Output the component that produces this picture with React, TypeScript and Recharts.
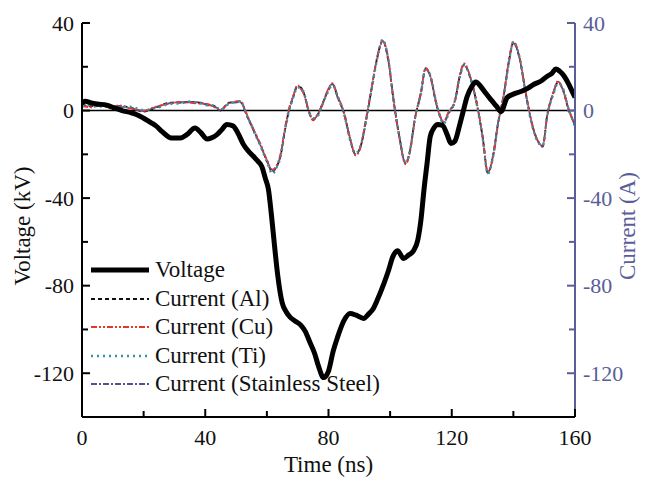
import React from 'react';
import { LineChart, Line, XAxis, YAxis, ReferenceLine, Legend } from 'recharts';

const FONT = '"Liberation Serif", "Times New Roman", Times, serif';
const AXIS_BLUE = '#5a5e98';

// time (ns) / voltage (kV)
const voltageTime = [
  0, 1, 3, 5, 8, 10, 13, 16, 18, 20, 22.6, 24, 26, 29, 32, 34, 36.7, 38.5, 40.6, 42,
  43.8, 45.5, 47, 49, 50.5, 52.4, 54, 55.7, 57, 58.4, 59.5, 60.5, 61.5, 62.5, 63.5, 65, 66.3, 67.6, 69, 71,
  72.5, 74, 75.5, 76.8, 78.4, 80, 81.5, 82.9, 85, 87, 89, 91.4, 93, 94.3, 96, 98, 99.5, 100.8, 102.4, 104.4,
  106, 107.6, 109, 110, 111, 112, 113, 114.2, 115.4, 117, 118.5, 119.7, 121, 122.5, 123.6, 125, 126.5, 127.8, 129.4, 131,
  132.7, 134.5, 136, 138, 140, 142.4, 144.5, 146.7, 149, 151, 152.5, 153.8, 155, 156.5, 158, 159, 160,
];
const voltageKV = [
  3.5, 4.3, 3.5, 3, 2.5, 1.5, 0, -1, -2, -3.5, -5.7, -7, -9.6, -12.5, -12.5, -11, -8, -10, -13, -12.5,
  -11, -8.5, -6.4, -7, -10, -15.5, -18.5, -21, -23, -25.7, -31, -36, -48, -62, -75, -88, -92, -94.5, -96, -98,
  -101, -106, -111, -117, -122, -119, -110, -103.7, -96, -92.7, -93.5, -95, -93, -91, -86, -79, -73, -67, -64, -67.6,
  -66, -64, -59, -50, -36, -24, -12, -8, -6.4, -6.8, -11, -15, -14, -7, -1, 6.4, 11, 13, 11, 8,
  5, 2, -0.5, 6, 7.5, 8.7, 10, 12, 13.5, 15.7, 17, 19, 18, 15.7, 12, 9, 6,
];

// time (ns) / current (A)
const currentTime = [
  0, 3, 6, 9, 12, 15.6, 20, 24, 28.6, 32,
  35, 38, 40.6, 43, 45, 47.6, 51.4, 53.6, 56, 58,
  60, 61.8, 63, 64.4, 66, 67, 68.5, 69.9, 71, 72,
  73.5, 75, 76.5, 78, 79.5, 81.3, 83, 85, 87, 88.8,
  90.5, 92, 94, 95.8, 97.6, 99.5, 101, 103, 105, 106.5,
  108, 110, 111.5, 113, 115, 117.4, 119, 121, 122.5, 124,
  126, 128, 130, 131.7, 133.5, 135, 137, 138.5, 140, 142,
  144, 146, 148, 149.5, 151, 153, 154.5, 156, 158, 159.5,
  160,
];
const currentAl = [
  2.7, 2, 2.5, 1.5, 2, 1.4, -0.5, 1.4, 3.6, 3.6,
  4, 3.6, 2.7, 2, 0, 3.6, 4, -2.7, -10, -16,
  -23, -28, -26, -21, -8, -1, 6, 11, 10.5, 8,
  0, -4, -2, 3, 8, 12, 6, -1, -13, -20,
  -16, -6, 10, 24, 32, 22, 6, -12, -24, -18,
  -4, 8, 19, 16, 3, -5.5, -1, 4, 15, 21,
  15, 4, -12, -28.5, -20, -6, 8, 22, 31, 24,
  8, -6, -14, -16.5, -2, 8, 13, 10, 0, -5,
  -7,
];
const currentCu = [
  2.2, 1.5, 2.8, 1, 2.4, 1, 0, 1.8, 3.2, 4,
  3.6, 3.2, 3, 1.5, 0.5, 3.2, 4.4, -2, -9.5, -15.5,
  -22.5, -27, -25.5, -20, -7, 0, 6.5, 11.5, 10, 7.5,
  0.5, -4.5, -1.5, 2.5, 8.5, 12.5, 6.5, -0.5, -12.5, -20.5,
  -16.5, -5, 10.5, 24.5, 31.5, 23, 5.5, -12.5, -24.5, -18.5,
  -4.5, 8.5, 19.5, 16, 3.5, -5, -0.5, 4.5, 15.5, 21.5,
  15.5, 4.5, -11.5, -28, -20.5, -6.5, 8.5, 22.5, 31.5, 24.5,
  8.5, -5.5, -14, -16, -2.5, 8.5, 13.5, 9.5, 0.5, -5,
  -6.5,
];
const currentTi = [
  1.8, 2.5, 1.8, 2, 1.6, 1.8, 0.3, 1, 3, 3.2,
  4.2, 3.4, 2.4, 2.3, 0.3, 3, 4.2, -2.4, -10.5, -16.5,
  -23.5, -29, -26.5, -21.5, -8.5, -1.5, 5.5, 10.5, 10.5, 8.5,
  0.5, -3.5, -2.5, 2.5, 7.5, 11.5, 6.5, -1.5, -13.5, -19.5,
  -15.5, -6.5, 9.5, 23.5, 32.5, 22.5, 6.5, -11.5, -23.5, -18,
  -4, 7.5, 18.5, 16.5, 3.5, -6, -1.5, 4.5, 14.5, 20.5,
  15.5, 3.5, -12.5, -29, -20.5, -6.5, 7.5, 21.5, 31.5, 24.5,
  7.5, -6.5, -14.5, -16, -2.5, 7.5, 12.5, 10.5, 0.5, -5.5,
  -7.5,
];
const currentSS = [
  2.4, 1.7, 2.2, 1.8, 1.7, 1.2, -0.2, 1.6, 3.4, 3.8,
  3.8, 3.8, 2.5, 1.8, 0.2, 3.4, 3.8, -2.5, -9.8, -16.2,
  -22.8, -27.6, -26.2, -20.6, -7.6, -0.8, 6.2, 11.2, 10.2, 7.8,
  0.2, -4.2, -1.8, 2.8, 8.2, 12.2, 5.8, -1.2, -12.8, -20.2,
  -15.8, -5.8, 10.2, 24.2, 31.8, 22.2, 5.8, -11.8, -24.2, -17.8,
  -3.8, 8.2, 19.2, 15.8, 2.8, -5.2, -0.8, 4.2, 15.2, 20.8,
  15.2, 3.8, -11.8, -28.2, -19.8, -5.8, 8.2, 22.2, 30.8, 23.8,
  8.2, -5.8, -14.2, -16.2, -1.8, 8.2, 13.2, 9.8, 0.2, -5.2,
  -6.8,
];

const timeTicks = [0, 20, 40, 60, 80, 100, 120, 140, 160];
const valueTicks = [-120, -100, -80, -60, -40, -20, 0, 20, 40];

const toPoints = (ts: number[], vs: number[]) => ts.map((t, i) => ({ t, v: vs[i] }));

const voltage = { name: 'Voltage', color: '#000', width: 5, dash: undefined as string | undefined };
const currents = [
  { name: 'Current (Al)', values: currentAl, color: '#111', width: 1.8, dash: '4 3' },
  { name: 'Current (Cu)', values: currentCu, color: '#e8342a', width: 1.8, dash: '6 2 2 2 2 2' },
  { name: 'Current (Ti)', values: currentTi, color: '#3596a8', width: 2.2, dash: '2 4' },
  { name: 'Current (Stainless Steel)', values: currentSS, color: '#4f5391', width: 1.8, dash: '6 2 2 2' },
];
// draw order: darker traces below, coloured ones on top
const drawOrder = [currents[0], currents[3], currents[1], currents[2]];

const LeftTick = (props: any) => {
  const { x, y, payload } = props;
  const v = payload.value;
  const ax = x + 8;
  const major = v % 40 === 0;
  return (
    <g>
      <line x1={ax} x2={ax + (major ? 8 : 6)} y1={y} y2={y} stroke="#000" strokeWidth={2} />
      {major && (
        <text x={x} y={y} dy="0.35em" textAnchor="end" fontSize={22} fontFamily={FONT} fill="#111">
          {v}
        </text>
      )}
    </g>
  );
};

const RightTick = (props: any) => {
  const { x, y, payload } = props;
  const v = payload.value;
  const ax = x - 8;
  const major = v % 40 === 0;
  return (
    <g>
      <line x1={ax} x2={ax - (major ? 8 : 6)} y1={y} y2={y} stroke={AXIS_BLUE} strokeWidth={2} />
      {major && (
        <text x={x} y={y} dy="0.35em" textAnchor="start" fontSize={22} fontFamily={FONT} fill={AXIS_BLUE}>
          {v}
        </text>
      )}
    </g>
  );
};

const BottomTick = (props: any) => {
  const { x, y, payload } = props;
  const v = payload.value;
  const ay = y - 8;
  const major = v % 40 === 0;
  return (
    <g>
      <line x1={x} x2={x} y1={ay} y2={ay - (major ? 8 : 6)} stroke="#000" strokeWidth={2} />
      {major && (
        <text x={x} y={ay + 28} textAnchor="middle" fontSize={22} fontFamily={FONT} fill="#111">
          {v}
        </text>
      )}
    </g>
  );
};

const sideTitle = (text: string, side: 'left' | 'right', color: string) => (props: any) => {
  const { x, y, width, height } = props.viewBox;
  const cx = side === 'left' ? x + 22 : x + width - 22;
  const cy = y + height / 2 + 6;
  return (
    <text x={cx} y={cy} transform={`rotate(-90 ${cx} ${cy})`} textAnchor="middle" dominantBaseline="central"
      fontSize={23} fontFamily={FONT} fill={color}>
      {text}
    </text>
  );
};

const bottomTitle = (props: any) => {
  const { x, y, width } = props.viewBox;
  return (
    <text x={x + width / 2} y={y + 55} textAnchor="middle" fontSize={23} fontFamily={FONT} fill="#111">
      Time (ns)
    </text>
  );
};

const legendRows = [voltage, ...currents];

const renderLegend = () => (
  <div style={{ fontFamily: FONT, fontSize: 23, color: '#111', lineHeight: '28.5px' }}>
    {legendRows.map((s) => (
      <div key={s.name} style={{ display: 'flex', alignItems: 'center', height: 28.5 }}>
        <svg width={62} height={10} style={{ marginRight: 3 }}>
          <line x1={1} x2={59} y1={5} y2={5} stroke={s.color} strokeWidth={s.width === 5 ? 5 : s.width + 0.2}
            strokeDasharray={s.dash} />
        </svg>
        <span style={{ whiteSpace: 'nowrap' }}>{s.name}</span>
      </div>
    ))}
  </div>
);

export default function App() {
  return (
    <div style={{ position: 'fixed', left: 0, top: 0, width: 649, height: 491, background: '#fff' }}>
      <LineChart width={649} height={491} margin={{ top: 23, right: 0, bottom: 0, left: 0 }}>
        <XAxis xAxisId="bottom" dataKey="t" type="number" domain={[0, 160]} ticks={timeTicks}
          allowDataOverflow height={74} tickSize={0} tickMargin={8} tick={BottomTick}
          axisLine={{ stroke: '#000', strokeWidth: 2 }} label={bottomTitle} />
        <XAxis xAxisId="top" orientation="top" dataKey="t" type="number" domain={[0, 160]} height={0}
          tick={false} tickLine={false} axisLine={{ stroke: '#000', strokeWidth: 2 }} />
        <YAxis yAxisId="left" type="number" domain={[-140, 40]} ticks={valueTicks} allowDataOverflow
          width={82} tickSize={0} tickMargin={8} tick={LeftTick} interval={0}
          axisLine={{ stroke: '#000', strokeWidth: 2 }} label={sideTitle('Voltage (kV)', 'left', '#111')} />
        <YAxis yAxisId="right" orientation="right" type="number" domain={[-140, 40]} ticks={valueTicks}
          allowDataOverflow width={74} tickSize={0} tickMargin={8} tick={RightTick} interval={0}
          axisLine={{ stroke: AXIS_BLUE, strokeWidth: 2 }} label={sideTitle('Current (A)', 'right', AXIS_BLUE)} />
        <ReferenceLine xAxisId="bottom" yAxisId="left" y={0} stroke="#000" strokeWidth={1.5} />
        {drawOrder.map((c) => (
          <Line key={c.name} xAxisId="bottom" yAxisId="right" data={toPoints(currentTime, c.values)}
            dataKey="v" name={c.name} type="monotone" stroke={c.color} strokeWidth={c.width}
            strokeDasharray={c.dash} dot={false} isAnimationActive={false} />
        ))}
        <Line xAxisId="bottom" yAxisId="left" data={toPoints(voltageTime, voltageKV)} dataKey="v"
          name="Voltage" type="monotone" stroke="#000" strokeWidth={5} strokeLinejoin="round"
          dot={false} isAnimationActive={false} />
        <Legend layout="vertical" align="center" verticalAlign="middle" content={renderLegend}
          wrapperStyle={{ left: 90, top: 256, width: 330, height: 145 }} />
      </LineChart>
    </div>
  );
}
